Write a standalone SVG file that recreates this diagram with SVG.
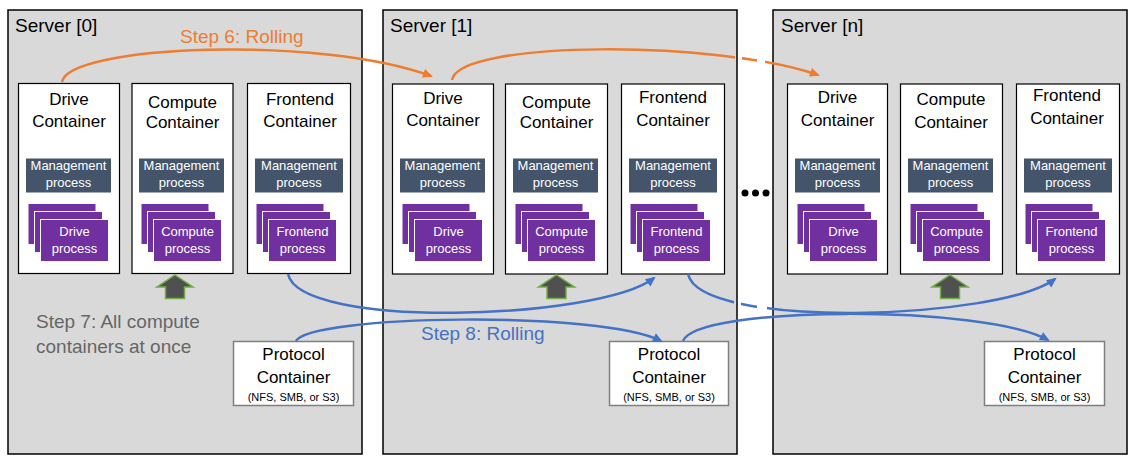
<svg xmlns="http://www.w3.org/2000/svg" xmlns:xlink="http://www.w3.org/1999/xlink" width="1134" height="462" viewBox="0 0 1134 462">
<style>
  text { font-family: "Liberation Sans", Arial, sans-serif; }
  .server { fill: #D9D9D9; stroke: #000; stroke-width: 1.5; }
  .srvlbl { font-size: 19px; fill: #000; }
  .cont { fill: #fff; stroke: #000; stroke-width: 1.2; }
  .ctitle { font-size: 17px; fill: #000; text-anchor: middle; }
  .mgmt { fill: #44546A; }
  .wtxt { font-size: 13px; fill: #fff; text-anchor: middle; }
  .proc { fill: #7030A0; stroke: #fff; stroke-width: 1; }
  .upar { fill: #505050; stroke: #70AD47; stroke-width: 1.5; }
  .proto { fill: #fff; stroke: #7F7F7F; stroke-width: 1.5; }
  .psub { font-size: 11px; fill: #000; text-anchor: middle; }
  .orange { fill: none; stroke: #ED7D31; stroke-width: 2.5; }
  .blue { fill: none; stroke: #4472C4; stroke-width: 2.5; }
  .step { font-size: 19px; }
</style>
<defs>
  <g id="stack">
    <rect class="proc" x="0" y="0" width="68" height="41"/>
    <rect class="proc" x="6.5" y="8" width="68" height="41"/>
    <rect class="proc" x="12.5" y="16" width="68" height="42"/>
  </g>
  <marker id="arrO" viewBox="0 0 10 10" refX="8" refY="5" markerWidth="11" markerHeight="10" markerUnits="userSpaceOnUse" orient="auto">
    <path d="M0,0.5 L10,5 L0,9.5 z" fill="#ED7D31"/>
  </marker>
  <marker id="arrB" viewBox="0 0 10 10" refX="8" refY="5" markerWidth="11" markerHeight="10" markerUnits="userSpaceOnUse" orient="auto">
    <path d="M0,0.5 L10,5 L0,9.5 z" fill="#4472C4"/>
  </marker>
  <mask id="mO" maskUnits="userSpaceOnUse" x="0" y="0" width="1134" height="462">
    <rect x="0" y="0" width="1134" height="462" fill="#fff"/>
    <rect x="735" y="30" width="7" height="45" fill="#000"/>
    <rect x="757" y="30" width="8" height="45" fill="#000"/>
  </mask>
  <mask id="mB" maskUnits="userSpaceOnUse" x="0" y="0" width="1134" height="462">
    <rect x="0" y="0" width="1134" height="462" fill="#fff"/>
    <rect x="734" y="285" width="7" height="35" fill="#000"/>
    <rect x="757" y="285" width="10" height="35" fill="#000"/>
  </mask>
</defs>

<!-- Server 0 -->
<g id="server0">
  <rect class="server" x="8" y="10" width="354" height="444"/>
  <text class="srvlbl" x="15" y="32">Server [0]</text>
</g>
<g id="s0-drive">
  <rect class="cont" x="18.5" y="83.5" width="101" height="190"/>
  <text class="ctitle" x="69" y="105">Drive</text>
  <text class="ctitle" x="69" y="127">Container</text>
  <rect class="mgmt" x="26" y="158.5" width="85" height="34"/>
  <text class="wtxt" x="68.5" y="170">Management</text>
  <text class="wtxt" x="68.5" y="186.5">process</text>
  <use xlink:href="#stack" x="28" y="203.5"/>
  <text class="wtxt" x="74.5" y="236">Drive</text>
  <text class="wtxt" x="74.5" y="252.5">process</text>
</g>
<g id="s0-compute">
  <rect class="cont" x="132" y="83.5" width="101" height="190"/>
  <text class="ctitle" x="182.5" y="108">Compute</text>
  <text class="ctitle" x="182.5" y="128">Container</text>
  <rect class="mgmt" x="139" y="158.5" width="85" height="34"/>
  <text class="wtxt" x="181.5" y="170">Management</text>
  <text class="wtxt" x="181.5" y="186.5">process</text>
  <use xlink:href="#stack" x="141" y="203.5"/>
  <text class="wtxt" x="187.5" y="236">Compute</text>
  <text class="wtxt" x="187.5" y="252.5">process</text>
</g>
<g id="s0-frontend">
  <rect class="cont" x="247.5" y="83.5" width="103" height="190"/>
  <text class="ctitle" x="300" y="105">Frontend</text>
  <text class="ctitle" x="300" y="127">Container</text>
  <rect class="mgmt" x="255" y="158.5" width="88" height="34"/>
  <text class="wtxt" x="299" y="170">Management</text>
  <text class="wtxt" x="299" y="186.5">process</text>
  <use xlink:href="#stack" x="256" y="203.5"/>
  <text class="wtxt" x="302.5" y="236">Frontend</text>
  <text class="wtxt" x="302.5" y="252.5">process</text>
</g>
<g id="s0-up">
  <polygon class="upar" points="175,275 193,287 184.5,287 184.5,298.5 165.5,298.5 165.5,287 157,287"/>
</g>
<g id="s0-protocol">
  <rect class="proto" x="233.5" y="341.5" width="120" height="64"/>
  <text class="ctitle" x="293.5" y="360">Protocol</text>
  <text class="ctitle" x="293.5" y="382.5">Container</text>
  <text class="psub" x="293.5" y="401">(NFS, SMB, or S3)</text>
</g>

<!-- Server 1 -->
<g id="server1">
  <rect class="server" x="383" y="10" width="354" height="444"/>
  <text class="srvlbl" x="390" y="32">Server [1]</text>
</g>
<g id="s1-drive">
  <rect class="cont" x="392.5" y="84" width="101" height="190"/>
  <text class="ctitle" x="443" y="103.5">Drive</text>
  <text class="ctitle" x="443" y="126">Container</text>
  <rect class="mgmt" x="400" y="158.5" width="85" height="34"/>
  <text class="wtxt" x="442.5" y="170">Management</text>
  <text class="wtxt" x="442.5" y="186.5">process</text>
  <use xlink:href="#stack" x="402" y="203.5"/>
  <text class="wtxt" x="448.5" y="236">Drive</text>
  <text class="wtxt" x="448.5" y="252.5">process</text>
</g>
<g id="s1-compute">
  <rect class="cont" x="505.5" y="84" width="102" height="190"/>
  <text class="ctitle" x="556.5" y="108">Compute</text>
  <text class="ctitle" x="556.5" y="128">Container</text>
  <rect class="mgmt" x="513" y="158.5" width="85" height="34"/>
  <text class="wtxt" x="555.5" y="170">Management</text>
  <text class="wtxt" x="555.5" y="186.5">process</text>
  <use xlink:href="#stack" x="515" y="203.5"/>
  <text class="wtxt" x="561.5" y="236">Compute</text>
  <text class="wtxt" x="561.5" y="252.5">process</text>
</g>
<g id="s1-frontend">
  <rect class="cont" x="621.5" y="84" width="103" height="190"/>
  <text class="ctitle" x="673" y="103">Frontend</text>
  <text class="ctitle" x="673" y="126">Container</text>
  <rect class="mgmt" x="629" y="158.5" width="88" height="34"/>
  <text class="wtxt" x="673" y="170">Management</text>
  <text class="wtxt" x="673" y="186.5">process</text>
  <use xlink:href="#stack" x="630" y="203.5"/>
  <text class="wtxt" x="676.5" y="236">Frontend</text>
  <text class="wtxt" x="676.5" y="252.5">process</text>
</g>
<g id="s1-up">
  <polygon class="upar" points="556.5,275 574.5,287 566,287 566,298.5 547,298.5 547,287 538.5,287"/>
</g>
<g id="s1-protocol">
  <rect class="proto" x="609.5" y="341.5" width="119" height="64"/>
  <text class="ctitle" x="669" y="360">Protocol</text>
  <text class="ctitle" x="669" y="382.5">Container</text>
  <text class="psub" x="669" y="401">(NFS, SMB, or S3)</text>
</g>

<!-- Ellipsis -->
<g id="ellipsis">
  <circle cx="745" cy="193" r="3.5" fill="#000"/>
  <circle cx="755.5" cy="193" r="3.5" fill="#000"/>
  <circle cx="766" cy="193" r="3.5" fill="#000"/>
</g>

<!-- Server n -->
<g id="servern">
  <rect class="server" x="773" y="10" width="354" height="444"/>
  <text class="srvlbl" x="781" y="32">Server [n]</text>
</g>
<g id="sn-drive">
  <rect class="cont" x="787.5" y="84" width="100" height="190"/>
  <text class="ctitle" x="837.5" y="102.5">Drive</text>
  <text class="ctitle" x="837.5" y="125.5">Container</text>
  <rect class="mgmt" x="795" y="158.5" width="85" height="34"/>
  <text class="wtxt" x="837.5" y="170">Management</text>
  <text class="wtxt" x="837.5" y="186.5">process</text>
  <use xlink:href="#stack" x="797" y="203.5"/>
  <text class="wtxt" x="843.5" y="236">Drive</text>
  <text class="wtxt" x="843.5" y="252.5">process</text>
</g>
<g id="sn-compute">
  <rect class="cont" x="900.5" y="84" width="102" height="190"/>
  <text class="ctitle" x="951" y="105">Compute</text>
  <text class="ctitle" x="951" y="128">Container</text>
  <rect class="mgmt" x="908" y="158.5" width="85" height="34"/>
  <text class="wtxt" x="950.5" y="170">Management</text>
  <text class="wtxt" x="950.5" y="186.5">process</text>
  <use xlink:href="#stack" x="910" y="203.5"/>
  <text class="wtxt" x="956.5" y="236">Compute</text>
  <text class="wtxt" x="956.5" y="252.5">process</text>
</g>
<g id="sn-frontend">
  <rect class="cont" x="1016.5" y="84" width="103" height="190"/>
  <text class="ctitle" x="1067" y="100.5">Frontend</text>
  <text class="ctitle" x="1067" y="124">Container</text>
  <rect class="mgmt" x="1024" y="158.5" width="88" height="34"/>
  <text class="wtxt" x="1068" y="170">Management</text>
  <text class="wtxt" x="1068" y="186.5">process</text>
  <use xlink:href="#stack" x="1025" y="203.5"/>
  <text class="wtxt" x="1071.5" y="236">Frontend</text>
  <text class="wtxt" x="1071.5" y="252.5">process</text>
</g>
<g id="sn-up">
  <polygon class="upar" points="950,275 968,287 959.5,287 959.5,298.5 940.5,298.5 940.5,287 932,287"/>
</g>
<g id="sn-protocol">
  <rect class="proto" x="984.5" y="341.5" width="120" height="64"/>
  <text class="ctitle" x="1044.5" y="360">Protocol</text>
  <text class="ctitle" x="1044.5" y="382.5">Container</text>
  <text class="psub" x="1044.5" y="401">(NFS, SMB, or S3)</text>
</g>

<!-- Connectors -->
<g id="connectors">
  <path class="orange" d="M62,82 C68,45 320,35 431,76" marker-end="url(#arrO)"/>
  <path class="orange" d="M452,80 C458,40 720,40 818,75" mask="url(#mO)" marker-end="url(#arrO)"/>
  <path class="blue" d="M288,274 C300,330 600,320 654,278" marker-end="url(#arrB)"/>
  <path class="blue" d="M296,341 C310,315 600,310 661,341" marker-end="url(#arrB)"/>
  <path class="blue" d="M688,274 C700,330 1000,320 1055,279" mask="url(#mB)" marker-end="url(#arrB)"/>
  <path class="blue" d="M683,341 C697,305 985,305 1048,340" marker-end="url(#arrB)"/>
</g>

<!-- Labels -->
<g id="labels">
  <text class="step" x="180" y="43" fill="#ED7D31">Step 6: Rolling</text>
  <text class="step" x="421" y="340" fill="#4472C4">Step 8: Rolling</text>
  <text class="step" x="36" y="328" fill="#666666">Step 7: All compute</text>
  <text class="step" x="36" y="353" fill="#666666">containers at once</text>
</g>
</svg>
